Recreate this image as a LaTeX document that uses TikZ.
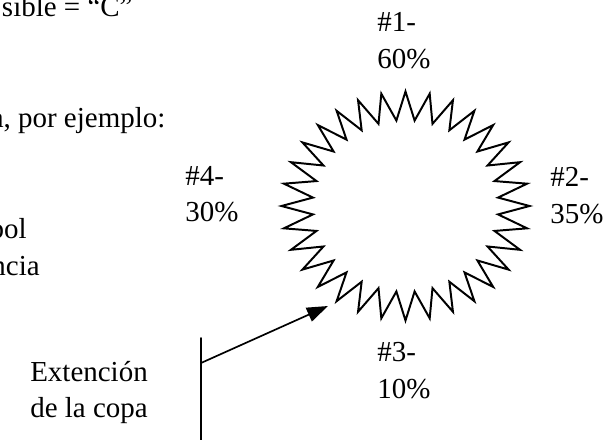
\documentclass[tikz,border=0pt]{standalone}
\usepackage{fontspec}
\setmainfont{Liberation Serif}
\usetikzlibrary{arrows.meta}

\begin{document}
\begin{tikzpicture}[x=0.025cm, y=-0.025cm, line cap=round, line join=round,
  lbl/.style={anchor=base west, inner sep=0pt, font=\fontsize{20.6}{26}\selectfont},
  lbr/.style={lbl, anchor=base east}]
\useasboundingbox (0,0) rectangle (611,440);

% texto cortado a la izquierda
\node[lbl] (t1) at (1.7,16.7) {sible = ``C''};
\node[lbl] (t2) at (-9.5,128) {a, por ejemplo:};
\node[lbr] (t3) at (27,238) {bol};
\node[lbr] (t4) at (40,275) {ncia};

% estrella de 32 puntas (copa)
\pgfmathsetmacro{\cx}{405.5}
\pgfmathsetmacro{\cy}{206}
\pgfmathsetmacro{\Rx}{124}
\pgfmathsetmacro{\Ry}{114.5}
\draw[line width=1.4pt, line join=miter]
  plot[samples at={0,...,63}, variable=\k]
  ({\cx+\Rx*(1-0.25*mod(\k,2))*cos(\k*5.625)},
   {\cy+\Ry*(1-0.25*mod(\k,2))*sin(\k*5.625)}) -- cycle;

% porcentajes
\node[lbl] (n1a) at (377,31.7) {\#1-};
\node[lbl] (n1b) at (377,68.3) {60\%};
\node[lbl] (n2a) at (550,186.7) {\#2-};
\node[lbl] (n2b) at (550,223) {35\%};
\node[lbl] (n3a) at (377,361.7) {\#3-};
\node[lbl] (n3b) at (377,398) {10\%};
\node[lbl] (n4a) at (185,185) {\#4-};
\node[lbl] (n4b) at (185,221.7) {30\%};

% extencion de la copa
\node[lbl] (ext1) at (30,381) {Extención};
\node[lbl] (ext2) at (30,417) {de la copa};

\coordinate (vtop) at (201,338);
\coordinate (vbot) at (201,440);
\coordinate (pie) at (201,363);
\coordinate (punta) at (328,306);
\draw[line width=1.1pt] (vtop) -- (vbot);
\draw[line width=1.2pt, -{Triangle[length=15pt,width=10.5pt]}] (pie) -- (punta);
\end{tikzpicture}
\end{document}
